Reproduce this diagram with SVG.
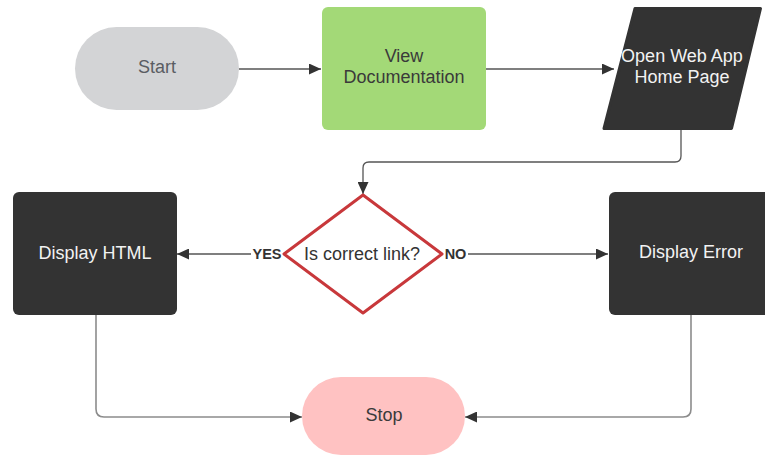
<svg xmlns="http://www.w3.org/2000/svg" width="765" height="459" viewBox="0 0 765 459">
  <defs>
    <marker id="arrow" markerUnits="userSpaceOnUse" markerWidth="13" markerHeight="11" refX="12" refY="5.5" orient="auto">
      <path d="M0,0 L12,5.5 L0,11 z" fill="#333333"/>
    </marker>
    <style>
      .lbl { font-family: "Liberation Sans", Arial, sans-serif; font-size: 18px; text-anchor: middle; }
      .light { fill: #f2f2f2; }
      .dark { fill: #3a3a3a; }
      .edge { fill: none; stroke: #555555; stroke-width: 1.3; marker-end: url(#arrow); }
      .edge2 { fill: none; stroke: #8c8c8c; stroke-width: 1.6; marker-end: url(#arrow); }
      .tag { font-family: "Liberation Sans", Arial, sans-serif; font-size: 14.5px; font-weight: bold; fill: #333333; text-anchor: middle; }
      .panel { fill: #333333; }
    </style>
  </defs>
  <rect width="765" height="459" fill="#ffffff"/>

  <!-- connectors -->
  <g id="connectors">
    <path class="edge" d="M239,69 H321"/>
    <path class="edge" d="M486,69 H614"/>
    <path class="edge" d="M681,130 V156 Q681,162 675,162 H369 Q363,162 363,168 V194"/>
    <path class="edge" d="M283,254 H177"/>
    <path class="edge" d="M442,254 H608"/>
    <path class="edge2" d="M96,315 V409 Q96,417 104,417 H302"/>
    <path class="edge2" d="M691,315 V409 Q691,417 683,417 H465"/>
    <!-- branch labels -->
    <rect x="251" y="245" width="32" height="18" fill="#ffffff"/>
    <text class="tag" x="267" y="259">YES</text>
    <rect x="443" y="245" width="25" height="18" fill="#ffffff"/>
    <text class="tag" x="455.5" y="259">NO</text>
  </g>

  <g id="start">
    <rect x="75" y="27" width="164" height="83" rx="41.5" fill="#d3d4d6"/>
    <text class="lbl" x="157" y="73" fill="#5a5d63">Start</text>
  </g>

  <g id="view-docs">
    <rect x="322" y="7" width="164" height="123" rx="6" fill="#a3d977"/>
    <text class="lbl dark" x="404" y="62">View</text>
    <text class="lbl dark" x="404" y="83">Documentation</text>
  </g>

  <g id="open-app">
    <path d="M635,8.5 H760.5 L731.5,128.5 H604 Z" fill="#333333" stroke="#333333" stroke-width="3" stroke-linejoin="round"/>
    <text class="lbl light" x="682" y="62">Open Web App</text>
    <text class="lbl light" x="682" y="83">Home Page</text>
  </g>

  <g id="decision">
    <path d="M363,195 L442,254 L363,313 L284,254 Z" fill="#ffffff" stroke="#c8383b" stroke-width="3" stroke-linejoin="round"/>
    <text class="lbl" x="362" y="260" fill="#333333">Is correct link?</text>
  </g>

  <g id="display-html">
    <rect x="13" y="192" width="164" height="123" rx="6" class="panel"/>
    <text class="lbl light" x="95" y="259">Display HTML</text>
  </g>

  <g id="display-error">
    <rect x="609" y="192" width="164" height="123" rx="6" class="panel"/>
    <text class="lbl light" x="691" y="258">Display Error</text>
  </g>

  <g id="stop">
    <rect x="302" y="377" width="163" height="78" rx="39" fill="#ffc2c2"/>
    <text class="lbl" x="384" y="421" fill="#3a3a3a">Stop</text>
  </g>
</svg>
